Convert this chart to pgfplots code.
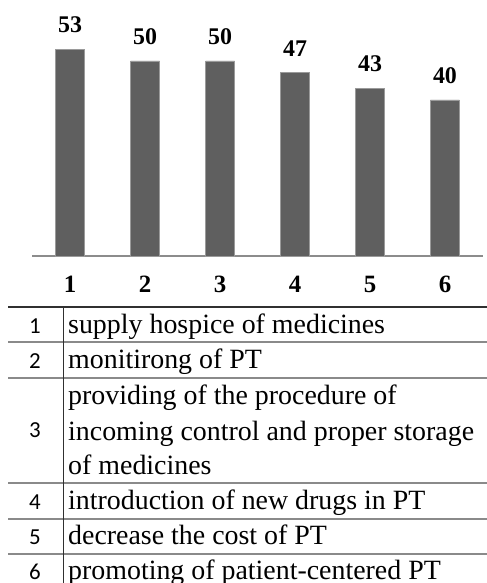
\documentclass[border=0pt]{standalone}
\usepackage{pgfplots}
\pgfplotsset{compat=1.18}
\usepackage{fontspec}
\setmainfont{Liberation Serif}
\newfontfamily\tnr{Liberation Serif}
\newfontfamily\calibri{Carlito}
\definecolor{barfill}{HTML}{5F5F5F}
\definecolor{baredge}{HTML}{9A9A9A}
\definecolor{axisgray}{HTML}{8C8C8C}
\definecolor{rulegray}{HTML}{8A8A8A}
\definecolor{ruledark}{HTML}{303030}
\begin{document}
\begin{tikzpicture}[x=1bp,y=1bp]
\begin{axis}[
  at={(32bp,327bp)}, anchor=south west,
  scale only axis, width=451bp, height=256bp,
  ymin=0, ymax=65.6, xmin=0.493, xmax=6.507,
  axis y line=none, axis x line=bottom,
  x axis line style={-, draw=axisgray, line width=1.3pt},
  ybar, bar width=29bp, bar shift=0pt,
  xtick={1,2,3,4,5,6},
  xticklabels={1,2,3,4,5,6},
  major tick length=0pt,
  xticklabel style={inner sep=0pt, anchor=north, yshift=-20bp, font=\tnr\bfseries\fontsize{25}{28}\selectfont},
  /pgf/number format/assume math mode=true,
  nodes near coords,
  every node near coord/.append style={inner sep=0pt, anchor=south, yshift=16bp, font=\tnr\bfseries\fontsize{24}{28}\selectfont, text=black},
  clip=false,
]
\addplot[fill=barfill, draw=baredge, line width=0.6pt] coordinates {(1,53) (2,50) (3,50) (4,47) (5,43) (6,40)};
\end{axis}
% table
\draw[ruledark, line width=1.4pt] (8,276) -- (495,276);
\foreach \yy in {241,205,100,64,29} {\draw[rulegray, line width=1.2pt] (8,\yy) -- (495,\yy);}
\draw[ruledark, line width=0.9pt] (63,276) -- (63,-10);
\tikzset{num/.style={anchor=base, inner sep=0pt, font=\fontsize{23}{26}\selectfont\calibri},
         desc/.style={anchor=base west, inner sep=0pt, font=\fontsize{28}{32}\selectfont\tnr}}
\node[num] at (35,249) {1};
\node[num] at (35,214) {2};
\node[num] at (35,145) {3};
\node[num] at (35,73) {4};
\node[num] at (35,38) {5};
\node[num] at (35,3) {6};
\node[desc] at (68,249) {supply hospice of medicines};
\node[desc] at (68,214) {monitirong of PT};
\node[desc] at (68,178) {providing of the procedure of};
\node[desc] at (68,142) {incoming control and proper storage};
\node[desc] at (68,108) {of medicines};
\node[desc] at (68,73) {introduction of new drugs in PT};
\node[desc] at (68,38) {decrease the cost of PT};
\node[desc] at (68,3) {promoting of patient-centered PT};
\pgfresetboundingbox
\useasboundingbox (0,0) rectangle (487,583);
\end{tikzpicture}
\end{document}
